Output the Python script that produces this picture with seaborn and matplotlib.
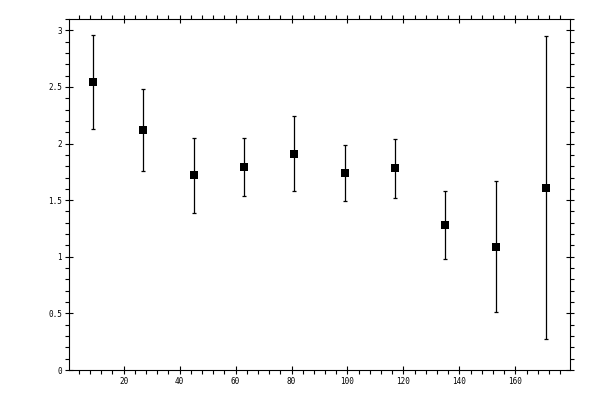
import matplotlib
matplotlib.use('Agg')
import matplotlib.pyplot as plt
import seaborn as sns
import pandas as pd
from matplotlib.ticker import MultipleLocator

sns.set_style('ticks')
plt.rcParams['font.family'] = ['DejaVu Sans Mono', 'DejaVu Sans']

# bin centres and measured values
x_vals = [9, 27, 45, 63, 81, 99, 117, 135, 153, 171]
y_vals = [2.54, 2.12, 1.72, 1.79, 1.91, 1.74, 1.78, 1.28, 1.09, 1.61]
y_err = [0.415, 0.36, 0.33, 0.256, 0.33, 0.247, 0.258, 0.30, 0.58, 1.34]

df = pd.DataFrame({'x': x_vals, 'y': y_vals, 'err': y_err})

fig = plt.figure(figsize=(6, 4), dpi=100)
ax = fig.add_axes([0.115, 0.075, 0.835, 0.8775])

ax.errorbar(df['x'], df['y'], yerr=df['err'], fmt='none', ecolor='black',
            elinewidth=0.9, capsize=1.6, capthick=0.9, zorder=2)
sns.scatterplot(data=df, x='x', y='y', marker='s', s=38, color='black',
                edgecolor='black', linewidth=0, ax=ax, zorder=3)

ax.set_xlim(0.5, 179.5)
ax.set_ylim(0, 3.1)
ax.set_xlabel('')
ax.set_ylabel('')

ax.xaxis.set_major_locator(MultipleLocator(20))
ax.xaxis.set_minor_locator(MultipleLocator(4))
ax.yaxis.set_major_locator(MultipleLocator(0.5))
ax.yaxis.set_minor_locator(MultipleLocator(0.1))
ax.set_yticks([0, 0.5, 1, 1.5, 2, 2.5, 3])
ax.set_yticklabels(['0', '0.5', '1', '1.5', '2', '2.5', '3'])
ax.set_xticks([20, 40, 60, 80, 100, 120, 140, 160])
ax.set_xticklabels(['20', '40', '60', '80', '100', '120', '140', '160'])

for s in ax.spines.values():
    s.set_visible(True)
    s.set_linewidth(0.8)
    s.set_color('black')

ax.tick_params(which='major', direction='inout', length=6, width=0.8,
               top=True, right=True, labelsize=5.5, pad=2, colors='black')
ax.tick_params(which='minor', direction='out', length=3, width=0.8,
               top=True, right=True, colors='black')

fig.savefig('out.png', dpi=100)
